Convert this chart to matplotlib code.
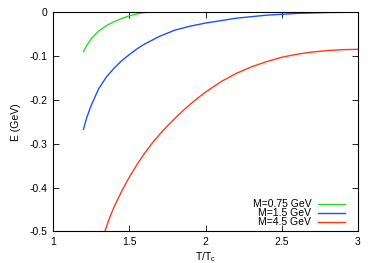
import matplotlib
matplotlib.use('Agg')
import matplotlib.pyplot as plt

plt.rcParams['font.family'] = ['Liberation Sans', 'DejaVu Sans']
plt.rcParams['font.size'] = 7.5

# data
t_green = [1.20, 1.22, 1.25, 1.30, 1.35, 1.40, 1.45, 1.50, 1.55, 1.60, 1.65]
e_green = [-0.090, -0.077, -0.061, -0.043, -0.031, -0.022, -0.0145, -0.0085, -0.004, -0.001, 0.0]

t_blue = [1.20, 1.22, 1.25, 1.30, 1.35, 1.40, 1.45, 1.50, 1.55, 1.60, 1.70, 1.80,
          1.90, 2.00, 2.20, 2.40, 2.60, 2.80, 3.00]
e_blue = [-0.267, -0.242, -0.213, -0.1745, -0.148, -0.128, -0.111, -0.097, -0.084, -0.073,
          -0.055, -0.041, -0.032, -0.025, -0.014, -0.007, -0.003, -0.001, 0.0]

t_red = [1.34, 1.37, 1.40, 1.45, 1.50, 1.55, 1.60, 1.65, 1.70, 1.75, 1.80, 1.85, 1.90,
         1.95, 2.00, 2.10, 2.20, 2.30, 2.40, 2.50, 2.60, 2.70, 2.80, 2.90, 3.00]
e_red = [-0.500, -0.470, -0.4445, -0.4085, -0.3765, -0.348, -0.322, -0.299, -0.2785, -0.2595,
         -0.242, -0.2255, -0.210, -0.1957, -0.1825, -0.159, -0.140, -0.125, -0.113, -0.103,
         -0.096, -0.091, -0.0877, -0.0857, -0.0848]

labels = ['M=0.75 GeV', 'M=1.5 GeV', 'M=4.5 GeV']
colors = ['#22e022', '#1f4fff', '#ff3a1a']

fig = plt.figure(figsize=(3.75, 2.63), dpi=100)
ax = fig.add_axes([0.1413, 0.12, 0.8134, 0.834])

ax.plot(t_green, e_green, color=colors[0], lw=1.0, label=labels[0])
ax.plot(t_blue, e_blue, color=colors[1], lw=1.0, label=labels[1])
ax.plot(t_red, e_red, color=colors[2], lw=1.0, label=labels[2])

ax.set_xlim(1, 3)
ax.set_ylim(-0.5, 0)
ax.set_xticks([1, 1.5, 2, 2.5, 3])
ax.set_xticklabels(['1', '1.5', '2', '2.5', '3'])
ax.set_yticks([0, -0.1, -0.2, -0.3, -0.4, -0.5])
ax.set_yticklabels(['0', '-0.1', '-0.2', '-0.3', '-0.4', '-0.5'])
ax.tick_params(direction='in', top=True, right=True, length=4, width=0.6, pad=4)
for s in ax.spines.values():
    s.set_linewidth(0.8)

ax.set_xlabel('T/T$_\\mathregular{c}$', labelpad=2)
ax.set_ylabel('E (GeV)', labelpad=6)

ax.legend(loc='lower right', bbox_to_anchor=(0.97, 0.0), frameon=False, markerfirst=False,
          handlelength=2.6, labelspacing=-0.1, handletextpad=0.6, borderaxespad=0.0)

fig.savefig('out.png', dpi=100)
